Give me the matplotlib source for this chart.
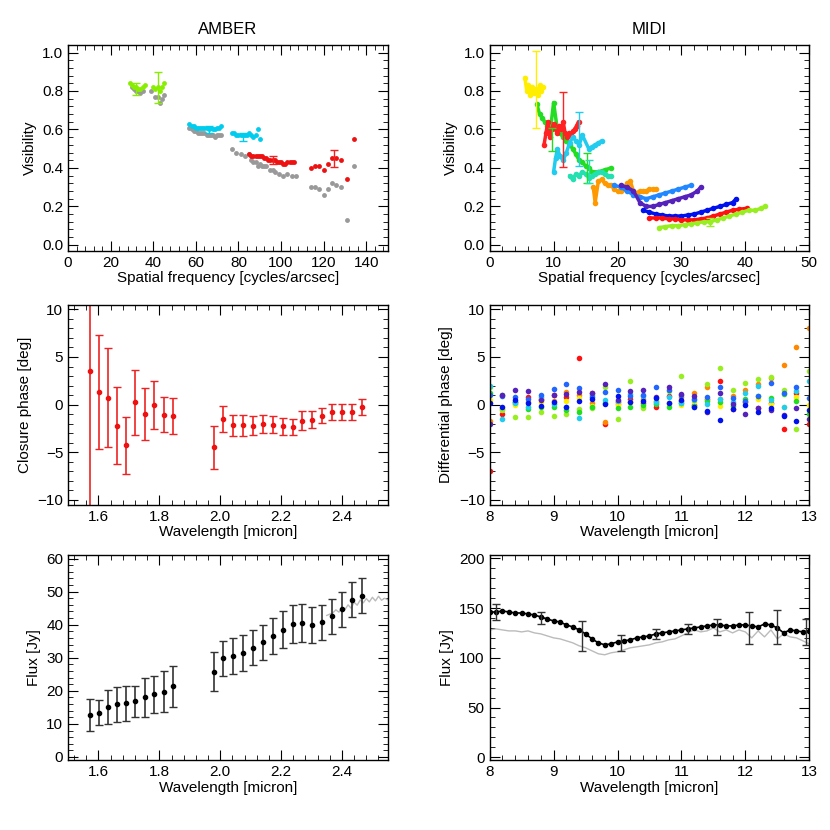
import matplotlib
matplotlib.use("Agg")
import matplotlib.pyplot as plt
from matplotlib.ticker import AutoMinorLocator, MultipleLocator

plt.rcParams["font.family"] = "Liberation Sans"
plt.rcParams["font.size"] = 11

# ---------------- AMBER visibility ----------------
amb_green_f = [29, 30, 31, 32, 33, 34, 35, 36, 40, 41, 42, 43, 44, 45]
amb_green_v = [0.84, 0.83, 0.82, 0.82, 0.81, 0.81, 0.82, 0.83, 0.82, 0.81, 0.82, 0.80, 0.82, 0.84]
amb_grey1_f = [30, 31, 32, 33, 34, 35, 39, 41, 42, 43, 44, 45]
amb_grey1_v = [0.82, 0.81, 0.80, 0.80, 0.79, 0.80, 0.80, 0.77, 0.77, 0.74, 0.76, 0.78]
amb_cyan_f = [57, 58, 59, 60, 61, 62, 63, 64, 65, 66, 67, 68, 69, 70, 71, 72,
              77, 78, 79, 80, 81, 82, 83, 84, 85, 86, 87, 88, 89, 90]
amb_cyan_v = [0.63, 0.62, 0.62, 0.61, 0.61, 0.61, 0.61, 0.61, 0.61, 0.60, 0.61, 0.60, 0.60, 0.61, 0.61, 0.62,
              0.58, 0.58, 0.57, 0.57, 0.57, 0.57, 0.57, 0.57, 0.58, 0.57, 0.56, 0.57, 0.60, 0.55]
amb_grey2_f = [57, 58, 59, 60, 61, 62, 63, 64, 65, 66, 67, 68, 69, 70, 71, 72,
               77, 79, 81, 83, 85, 86, 87, 88, 89, 90, 91, 92, 93, 95, 96, 97, 99, 101, 103, 105, 107]
amb_grey2_v = [0.61, 0.60, 0.59, 0.59, 0.58, 0.58, 0.58, 0.58, 0.57, 0.57, 0.57, 0.57, 0.56, 0.57, 0.57, 0.57,
               0.50, 0.48, 0.47, 0.46, 0.47, 0.44, 0.43, 0.43, 0.41, 0.42, 0.41, 0.41, 0.41, 0.39, 0.39, 0.38, 0.37, 0.36, 0.37, 0.36, 0.36]
amb_red_f = [85, 86, 87, 88, 89, 90, 91, 92, 93, 94, 95, 96, 97, 98, 99, 100, 101, 102, 103, 104, 105, 106,
             114, 116, 118, 120, 122, 124, 126, 128, 131, 134]
amb_red_v = [0.47, 0.46, 0.46, 0.46, 0.46, 0.46, 0.46, 0.45, 0.45, 0.44, 0.44, 0.44, 0.44, 0.43, 0.43, 0.43, 0.42, 0.42, 0.43, 0.43, 0.43, 0.43,
             0.40, 0.41, 0.41, 0.39, 0.42, 0.45, 0.45, 0.44, 0.34, 0.55]
amb_grey3_f = [114, 116, 118, 120, 122, 124, 126, 128, 131, 134]
amb_grey3_v = [0.30, 0.30, 0.29, 0.26, 0.29, 0.32, 0.31, 0.30, 0.13, 0.41]
amb_vis_err_f = [32, 42, 66, 82, 96, 125]
amb_vis_err_v = [0.81, 0.82, 0.60, 0.56, 0.44, 0.45]
amb_vis_err_e = [0.03, 0.08, 0.02, 0.02, 0.02, 0.045]
amb_vis_err_c = ["#88ee00", "#88ee00", "#00ccee", "#00ccee", "#ee2222", "#ee2222"]

# ---------------- AMBER closure phase ----------------
amb_wl = [1.573, 1.603, 1.632, 1.662, 1.691, 1.720, 1.752, 1.782, 1.814, 1.845,
          1.978, 2.010, 2.042, 2.076, 2.108, 2.140, 2.173, 2.205, 2.238, 2.270,
          2.303, 2.336, 2.368, 2.400, 2.434, 2.466]
amb_cp = [3.56, 1.34, 0.72, -2.22, -4.25, 0.23, -0.98, -0.03, -1.05, -1.18,
          -4.5, -1.47, -2.19, -2.19, -2.22, -2.03, -2.12, -2.29, -2.35, -1.67,
          -1.57, -1.18, -0.78, -0.78, -0.78, -0.23]
amb_cp_err = [15.0, 6.0, 5.2, 4.05, 3.0, 3.4, 2.7, 2.5, 1.85, 1.86,
              2.27, 1.37, 1.15, 1.1, 1.0, 0.95, 0.9, 0.85, 0.85, 0.95,
              0.85, 0.8, 0.8, 0.8, 0.8, 0.85]

# ---------------- AMBER flux ----------------
amb_flux = [12.7, 13.4, 15.1, 15.9, 16.3, 16.8, 18.0, 19.0, 19.8, 21.4,
            25.8, 29.8, 30.6, 31.5, 33.1, 34.7, 36.5, 38.5, 40.2, 40.6,
            40.0, 40.7, 42.5, 44.6, 47.5, 48.8]
amb_flux_err = [4.9, 3.8, 5.1, 5.3, 5.3, 4.6, 6.0, 5.6, 6.3, 6.2,
                5.9, 5.3, 5.5, 5.5, 5.3, 5.3, 5.5, 5.5, 5.7, 5.7,
                5.5, 5.2, 5.2, 5.3, 5.3, 5.3]
amb_phot_wl = [2.35, 2.37, 2.38, 2.39, 2.40, 2.41, 2.42, 2.43, 2.44, 2.45, 2.46, 2.47, 2.48, 2.49, 2.50, 2.51, 2.52, 2.53, 2.54, 2.55]
amb_phot_fl = [42.8, 43.6, 44.5, 43.8, 45.2, 44.6, 46.0, 45.0, 46.8, 45.9, 47.5, 46.6, 47.9, 46.9, 48.3, 47.2, 48.6, 47.4, 48.0, 47.6]

# ---------------- MIDI visibility ----------------
midi_tracks = [
    ("#ffee00", [5.5, 5.8, 6.0, 6.3, 6.6, 6.9, 7.2, 7.5, 7.8, 8.1, 8.4],
                [0.87, 0.80, 0.83, 0.78, 0.82, 0.79, 0.81, 0.78, 0.83, 0.80, 0.82]),
    ("#22dd22", [7.4, 7.8, 8.2, 8.6, 9.0, 9.5, 10.0, 10.5, 11.0, 11.5, 12.0, 12.5, 13.0, 13.5, 14.0, 14.5, 15.0, 15.5, 16.0, 17.0, 18.0, 19.0],
                [0.73, 0.68, 0.66, 0.64, 0.62, 0.60, 0.74, 0.62, 0.58, 0.56, 0.54, 0.52, 0.50, 0.47, 0.44, 0.43, 0.41, 0.40, 0.38, 0.38, 0.39, 0.40]),
    ("#ff2222", [8.5, 8.8, 9.1, 9.4, 9.7, 10.0, 10.3, 10.6, 10.9, 11.2, 11.5, 11.8, 12.1, 12.4, 12.7, 13.0, 13.3, 13.6, 13.9],
                [0.52, 0.58, 0.64, 0.56, 0.60, 0.63, 0.60, 0.58, 0.62, 0.60, 0.64, 0.58, 0.56, 0.58, 0.57, 0.59, 0.60, 0.62, 0.64]),
    ("#22ccee", [10.0, 10.3, 10.6, 11.0, 11.5, 12.0, 12.5, 13.0, 13.5, 14.0, 14.5, 15.5, 16.0, 16.5, 17.0, 17.5],
                [0.38, 0.45, 0.50, 0.46, 0.44, 0.48, 0.53, 0.56, 0.54, 0.52, 0.57, 0.50, 0.51, 0.52, 0.53, 0.54]),
    ("#22e0b0", [12.5, 13.0, 13.5, 14.0, 14.5, 15.0, 15.5, 16.0, 16.5, 17.0, 17.5, 18.0, 18.5, 19.0],
                [0.36, 0.34, 0.37, 0.36, 0.38, 0.37, 0.35, 0.36, 0.37, 0.38, 0.38, 0.37, 0.36, 0.36]),
    ("#ff9900", [16.2, 16.5, 17.0, 17.5, 18.0, 18.5, 19.0, 19.5, 20.0, 20.5, 21.0, 21.5, 22.0, 22.5, 23.0, 23.5, 24.0, 24.5, 25.0, 25.5, 26.0],
                [0.30, 0.22, 0.33, 0.34, 0.32, 0.31, 0.31, 0.29, 0.28, 0.28, 0.29, 0.32, 0.33, 0.28, 0.27, 0.28, 0.28, 0.28, 0.29, 0.29, 0.29]),
    ("#2288ff", [19.5, 20.5, 21.5, 22.5, 23.5, 24.5, 25.5, 26.5, 27.5, 28.5, 29.5, 30.5, 31.5],
                [0.31, 0.30, 0.28, 0.26, 0.25, 0.24, 0.25, 0.26, 0.27, 0.28, 0.29, 0.30, 0.31]),
    ("#5522bb", [20.5, 21.5, 22.5, 23.5, 24.5, 25.5, 26.5, 27.5, 28.5, 29.5, 30.5, 31.5, 32.5, 33.0],
                [0.31, 0.30, 0.28, 0.22, 0.20, 0.20, 0.21, 0.22, 0.23, 0.24, 0.25, 0.26, 0.28, 0.30]),
    ("#0011ee", [24.0, 25.0, 26.0, 27.0, 28.0, 29.0, 30.0, 31.0, 32.0, 33.0, 34.0, 35.0, 36.0, 37.0, 38.0, 38.6],
                [0.18, 0.17, 0.16, 0.155, 0.15, 0.15, 0.15, 0.155, 0.16, 0.17, 0.18, 0.19, 0.20, 0.21, 0.22, 0.24]),
    ("#ff1111", [25.0, 26.0, 27.0, 28.0, 29.0, 30.0, 31.0, 32.0, 33.0, 34.0, 35.0, 36.0, 37.0, 38.0, 39.0, 40.2],
                [0.14, 0.14, 0.14, 0.135, 0.135, 0.13, 0.13, 0.13, 0.135, 0.14, 0.15, 0.16, 0.17, 0.18, 0.185, 0.19]),
    ("#99ee22", [26.5, 27.5, 28.5, 29.5, 30.5, 31.5, 32.5, 33.5, 34.5, 35.5, 36.5, 37.5, 38.5, 39.5, 40.5, 41.5, 42.5, 43.0],
                [0.09, 0.095, 0.10, 0.10, 0.105, 0.11, 0.115, 0.12, 0.12, 0.13, 0.14, 0.15, 0.16, 0.17, 0.18, 0.18, 0.19, 0.20]),
]
midi_err_f = [7.2, 9.8, 11.4, 14.0, 15.3, 15.6, 34.5]
midi_err_v = [0.81, 0.55, 0.60, 0.55, 0.40, 0.38, 0.12]
midi_err_e = [0.20, 0.06, 0.195, 0.14, 0.08, 0.06, 0.02]
midi_err_c = ["#ffee00", "#22dd22", "#ff2222", "#22ccee", "#22dd22", "#22e0b0", "#99ee22"]

# ---------------- MIDI differential phase ----------------
dp_wl = [8.0, 8.2, 8.4, 8.6, 8.8, 9.0, 9.2, 9.4, 9.6, 9.8, 10.0, 10.2, 10.4, 10.6, 10.8,
         11.0, 11.2, 11.4, 11.6, 11.8, 12.0, 12.2, 12.4, 12.6, 12.8, 13.0]
dp_series = [
    ("#ff1111", [-7.0, -1.0, 0.3, 0.8, 0.6, 1.0, 0.8, 4.9, 1.2, -2.0, 0.3, 0.6, 0.2, -0.3, 0.9, 0.4, 0.0, 0.6, 2.5, -0.5, 0.3, -0.4, 0.2, -2.6, 1.2, -2.0]),
    ("#ff8800", [-1.7, -0.5, 0.1, 0.3, 0.5, 0.4, 1.3, 1.0, 0.2, -1.8, 0.1, 0.3, 0.6, 0.4, 0.2, 0.8, 1.2, 1.8, 0.6, 0.9, 1.5, 2.2, 2.8, 4.2, 6.0, 8.0]),
    ("#ffee00", [0.5, -0.4, 0.0, -0.2, 0.3, 0.1, 0.4, 0.7, -0.1, 0.2, 0.0, 0.3, -0.2, 0.4, 0.1, 0.0, 0.3, 0.5, -0.1, 0.2, 0.4, 0.6, 0.1, -0.3, 0.8, 0.0]),
    ("#99ee22", [1.8, -0.6, -1.3, -1.3, -0.8, -1.2, -1.0, -0.5, -0.4, 1.8, -1.5, 2.5, -0.4, 0.2, 1.4, 3.0, -0.3, 2.2, 3.8, 1.5, 2.3, 2.7, 2.9, 1.5, -2.6, 3.5]),
    ("#22dd22", [1.2, 1.0, 0.3, -0.5, -0.3, -0.2, -0.6, -0.8, -0.3, 0.2, -0.4, -0.2, 0.0, 0.1, -0.3, 0.2, -0.1, 0.4, 0.3, -0.1, 0.6, 0.9, 0.7, 1.1, 0.4, -1.0]),
    ("#22ccee", [2.0, -1.5, 0.2, -0.3, 0.8, 0.1, -0.2, -1.4, 1.0, 0.5, 0.4, 1.1, 0.9, 0.3, 0.8, 0.2, 0.5, 0.1, 0.6, 0.3, 1.2, 2.0, 0.5, -0.3, 1.4, 2.5]),
    ("#2266ff", [1.0, 0.9, 0.8, 0.6, 1.0, 1.6, 2.2, 1.7, 0.8, 1.3, 1.5, 0.9, 1.0, 1.8, 1.5, 1.0, 0.6, 0.8, 1.9, 0.7, 0.4, 0.9, 2.3, 1.2, 1.8, 0.7]),
    ("#5522bb", [-2.0, 1.0, 1.5, 1.4, 0.5, 1.0, 1.1, 1.3, 1.2, 2.2, 0.5, 1.4, 1.5, 0.8, 1.9, 1.1, 0.9, -0.8, 1.2, 0.1, -1.0, -0.4, -0.6, -1.1, -0.4, -1.5]),
    ("#0011ee", [0.2, -0.3, 0.5, 0.2, -0.1, 0.3, -0.2, 0.4, 0.6, 0.1, 0.9, 0.3, 0.4, 0.7, 0.2, 0.5, -0.2, -0.7, -1.6, -0.5, 0.0, -0.8, -0.4, -1.2, -1.7, -0.6]),
]

# ---------------- MIDI flux ----------------
mf_wl = [8.0, 8.1, 8.2, 8.3, 8.4, 8.5, 8.6, 8.7, 8.8, 8.9, 9.0, 9.1, 9.2, 9.3, 9.4, 9.5, 9.6, 9.7, 9.8, 9.9,
         10.0, 10.1, 10.2, 10.3, 10.4, 10.5, 10.6, 10.7, 10.8, 10.9, 11.0, 11.1, 11.2, 11.3, 11.4, 11.5, 11.6,
         11.7, 11.8, 11.9, 12.0, 12.1, 12.2, 12.3, 12.4, 12.5, 12.6, 12.7, 12.8, 12.9, 13.0]
mf_fl = [146, 146, 147, 146, 145, 145, 144, 143, 141, 139, 137, 136, 133, 131, 128, 124, 119, 115, 113, 114,
         116, 117, 118, 120, 121, 122, 124, 125, 126, 127, 128, 129, 130, 131, 132, 133, 133,
         132, 132, 133, 133, 132, 131, 134, 133, 130, 125, 128, 127, 126, 127]
mf_phot = [128, 129, 128, 127, 127, 126, 127, 125, 124, 122, 120, 119, 117, 115, 112, 110, 107, 104, 103, 105,
           106, 108, 110, 111, 112, 113, 115, 116, 118, 119, 122, 125, 128, 126, 127, 130, 126,
           128, 125, 128, 126, 120, 127, 121, 128, 119, 124, 121, 120, 117, 114]
mf_err_wl = [8.1, 8.8, 9.45, 10.05, 10.6, 11.1, 11.55, 12.05, 12.5, 12.95]
mf_err_fl = [146, 140, 122, 115, 124, 129, 131, 130, 131, 126]
mf_err_e = [8, 6, 15, 8, 5, 5, 8, 16, 17, 13]


def style(ax):
    ax.tick_params(which="both", direction="in", top=True, right=True, labelsize=11)
    ax.tick_params(which="major", length=7)
    ax.tick_params(which="minor", length=3.5)
    ax.xaxis.set_minor_locator(AutoMinorLocator(5))
    ax.yaxis.set_minor_locator(AutoMinorLocator(5))
    for s in ax.spines.values():
        s.set_linewidth(1.0)


fig = plt.figure(figsize=(8.3, 8.3), dpi=100)
L, R, W = 0.082, 0.590, 0.385
ax1 = fig.add_axes([L, 0.698, W, 0.248])
ax2 = fig.add_axes([R, 0.698, W, 0.248])
ax3 = fig.add_axes([L, 0.392, W, 0.241])
ax4 = fig.add_axes([R, 0.392, W, 0.241])
ax5 = fig.add_axes([L, 0.084, W, 0.247])
ax6 = fig.add_axes([R, 0.084, W, 0.247])

ms = 3.5
# AMBER visibility
ax1.plot(amb_grey1_f, amb_grey1_v, "o", color="#999999", ms=ms, mec="none")
ax1.plot(amb_grey2_f, amb_grey2_v, "o", color="#999999", ms=ms, mec="none")
ax1.plot(amb_grey3_f, amb_grey3_v, "o", color="#999999", ms=ms, mec="none")
ax1.plot(amb_green_f, amb_green_v, "o", color="#88ee00", ms=ms, mec="none")
ax1.plot(amb_cyan_f, amb_cyan_v, "o", color="#00ccee", ms=ms, mec="none")
ax1.plot(amb_red_f, amb_red_v, "o", color="#ee1111", ms=ms, mec="none")
for f, v, e, c in zip(amb_vis_err_f, amb_vis_err_v, amb_vis_err_e, amb_vis_err_c):
    ax1.errorbar([f], [v], yerr=[e], fmt="none", ecolor=c, capsize=3, elinewidth=1)
ax1.set_xlim(0, 150)
ax1.set_ylim(-0.03, 1.04)
ax1.xaxis.set_major_locator(MultipleLocator(20))
ax1.yaxis.set_major_locator(MultipleLocator(0.2))
ax1.set_xlabel("Spatial frequency [cycles/arcsec]", labelpad=1)
ax1.set_ylabel("Visibility")
ax1.set_title("AMBER", fontsize=12, pad=8)
style(ax1)

# MIDI visibility
for c, f, v in midi_tracks:
    ax2.plot(f, v, "-", color=c, lw=2.5, solid_capstyle="round")
    ax2.plot(f, v, "o", color=c, ms=4, mec="none")
for f, v, e, c in zip(midi_err_f, midi_err_v, midi_err_e, midi_err_c):
    ax2.errorbar([f], [v], yerr=[e], fmt="none", ecolor=c, capsize=3, elinewidth=1)
ax2.set_xlim(0, 50)
ax2.set_ylim(-0.03, 1.04)
ax2.xaxis.set_major_locator(MultipleLocator(10))
ax2.yaxis.set_major_locator(MultipleLocator(0.2))
ax2.set_xlabel("Spatial frequency [cycles/arcsec]", labelpad=1)
ax2.set_ylabel("Visibility")
ax2.set_title("MIDI", fontsize=12, pad=8)
style(ax2)

# AMBER closure phase
ax3.errorbar(amb_wl, amb_cp, yerr=amb_cp_err, fmt="o", color="#ee1111", ecolor="#ee2222",
             ms=3, capsize=3, elinewidth=1.2)
ax3.set_xlim(1.5, 2.55)
ax3.set_ylim(-10.5, 10.5)
ax3.xaxis.set_major_locator(MultipleLocator(0.2))
ax3.yaxis.set_major_locator(MultipleLocator(5))
ax3.set_xlabel("Wavelength [micron]", labelpad=1)
ax3.set_ylabel("Closure phase [deg]")
style(ax3)

# MIDI differential phase
for c, v in dp_series:
    ax4.plot(dp_wl, v, "o", color=c, ms=4, mec="none")
ax4.set_xlim(8, 13)
ax4.set_ylim(-10.5, 10.5)
ax4.xaxis.set_major_locator(MultipleLocator(1))
ax4.yaxis.set_major_locator(MultipleLocator(5))
ax4.set_xlabel("Wavelength [micron]", labelpad=1)
ax4.set_ylabel("Differential phase [deg]")
style(ax4)

# AMBER flux
ax5.plot(amb_phot_wl, amb_phot_fl, "-", color="#bbbbbb", lw=1)
ax5.errorbar(amb_wl, amb_flux, yerr=amb_flux_err, fmt="o", color="black", ecolor="#333333",
             ms=3, capsize=3, elinewidth=1.2)
ax5.set_xlim(1.5, 2.55)
ax5.set_ylim(-1, 61)
ax5.xaxis.set_major_locator(MultipleLocator(0.2))
ax5.yaxis.set_major_locator(MultipleLocator(10))
ax5.set_xlabel("Wavelength [micron]", labelpad=1)
ax5.set_ylabel("Flux [Jy]")
style(ax5)

# MIDI flux
ax6.plot(mf_wl, mf_phot, "-", color="#bbbbbb", lw=1)
ax6.plot(mf_wl, mf_fl, "-o", color="black", ms=3, lw=1.2)
ax6.errorbar(mf_err_wl, mf_err_fl, yerr=mf_err_e, fmt="none", ecolor="#333333", capsize=3, elinewidth=1)
ax6.set_xlim(8, 13)
ax6.set_ylim(-3, 203)
ax6.xaxis.set_major_locator(MultipleLocator(1))
ax6.yaxis.set_major_locator(MultipleLocator(50))
ax6.set_xlabel("Wavelength [micron]", labelpad=1)
ax6.set_ylabel("Flux [Jy]")
style(ax6)

fig.savefig("out.png", dpi=100)
